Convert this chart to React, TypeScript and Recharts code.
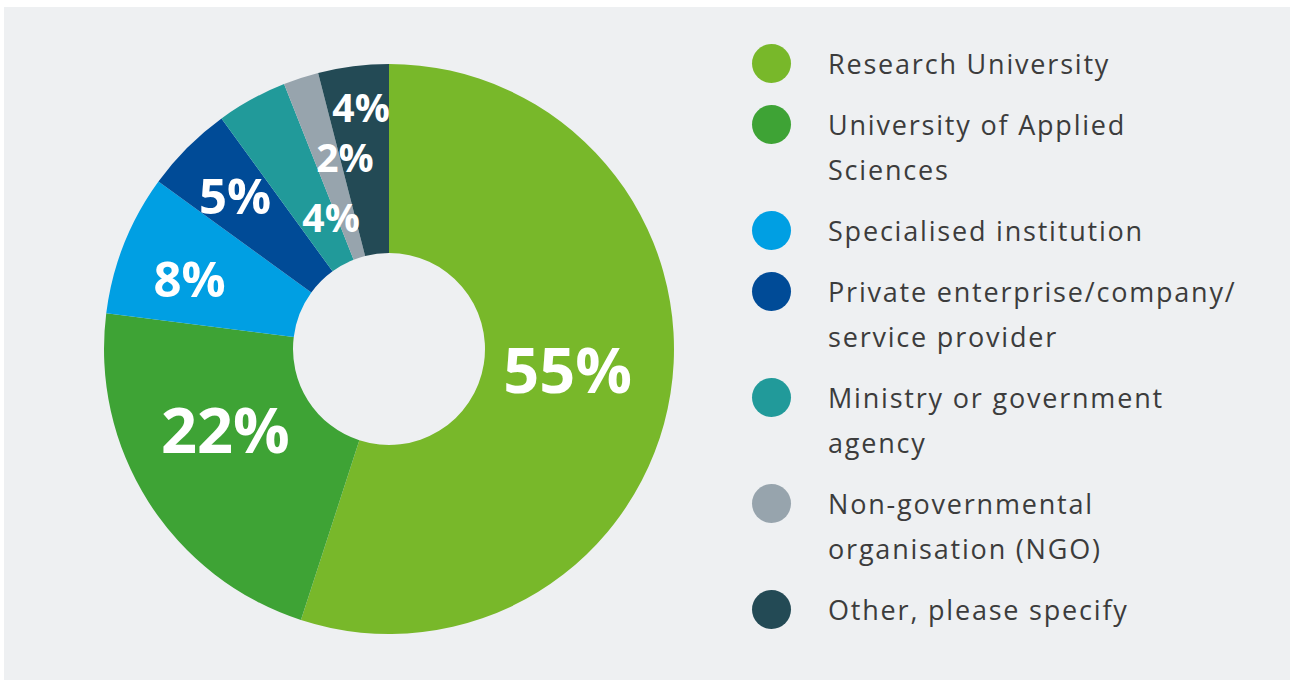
import React from "react";
import { PieChart, Pie, Cell, Legend } from "recharts";

const categories = [
  "Research University",
  "University of Applied Sciences",
  "Specialised institution",
  "Private enterprise/company/service provider",
  "Ministry or government agency",
  "Non-governmental organisation (NGO)",
  "Other, please specify",
];
const shares = [55, 22, 8, 5, 4, 2, 4];
const legendLines = [
  ["Research University"],
  ["University of Applied", "Sciences"],
  ["Specialised institution"],
  ["Private enterprise/company/", "service provider"],
  ["Ministry or government", "agency"],
  ["Non-governmental", "organisation (NGO)"],
  ["Other, please specify"],
];

const COLORS = ["#78b82a", "#3ea335", "#009fe3", "#004b97", "#219a9a", "#97a4ad", "#234a55"];
// label placement: angle clockwise from 12 o'clock (deg), radius (px), font size
const LABEL_POS = [
  [97, 180, 63],
  [243.4, 183, 63],
  [289.1, 211, 49],
  [314.8, 217, 49],
  [336.1, 143, 39],
  [347, 196, 39],
  [353.4, 243, 39],
];

const data = categories.map((name, i) => ({ name, value: shares[i] }));

const renderLabel = (props: any) => {
  const { cx, cy, index } = props;
  const [ang, r, fs] = LABEL_POS[index];
  const t = (ang * Math.PI) / 180;
  const x = cx + r * Math.sin(t);
  const y = cy - r * Math.cos(t);
  return (
    <text
      key={`lbl-${index}`}
      x={x}
      y={y + 0.357 * fs}
      textAnchor="middle"
      fill="#ffffff"
      fontFamily="'Open Sans', sans-serif"
      fontWeight={700}
      fontSize={fs}
    >
      {`${shares[index]}%`}
    </text>
  );
};

const renderLegend = () => (
  <div style={{ fontFamily: "'Open Sans', sans-serif", textAlign: "left" }}>
    {categories.map((c, i) => (
      <div key={c} style={{ display: "flex", alignItems: "flex-start", marginBottom: 16 }}>
        <div
          style={{
            width: 39,
            height: 39,
            borderRadius: "50%",
            background: COLORS[i],
            marginTop: 3,
            flex: "0 0 auto",
          }}
        />
        <div
          style={{
            marginLeft: 37,
            fontSize: 27,
            lineHeight: "45px",
            letterSpacing: 1.8,
            color: "#3c3c3c",
            whiteSpace: "nowrap",
          }}
        >
          {legendLines[i].map((l, j) => (
            <div key={j}>{l}</div>
          ))}
        </div>
      </div>
    ))}
  </div>
);

export default function App() {
  return (
    <div
      style={{
        position: "fixed",
        left: 4,
        top: 7,
        width: 1286,
        height: 673,
        background: "#eef0f2",
      }}
    >
      <PieChart width={1286} height={673} margin={{ top: 0, right: 0, bottom: 0, left: 0 }}>
        <Pie
          data={data}
          dataKey="value"
          nameKey="name"
          cx={385}
          cy={342}
          innerRadius={96}
          outerRadius={285}
          startAngle={90}
          endAngle={-270}
          stroke="none"
          labelLine={false}
          label={renderLabel}
          isAnimationActive={false}
        >
          {data.map((d, i) => (
            <Cell key={d.name} fill={COLORS[i]} />
          ))}
        </Pie>
        <Legend
          layout="vertical"
          verticalAlign="middle"
          align="center"
          content={renderLegend}
          wrapperStyle={{ left: 748, top: 34, width: 520, transform: "none" }}
        />
      </PieChart>
    </div>
  );
}
